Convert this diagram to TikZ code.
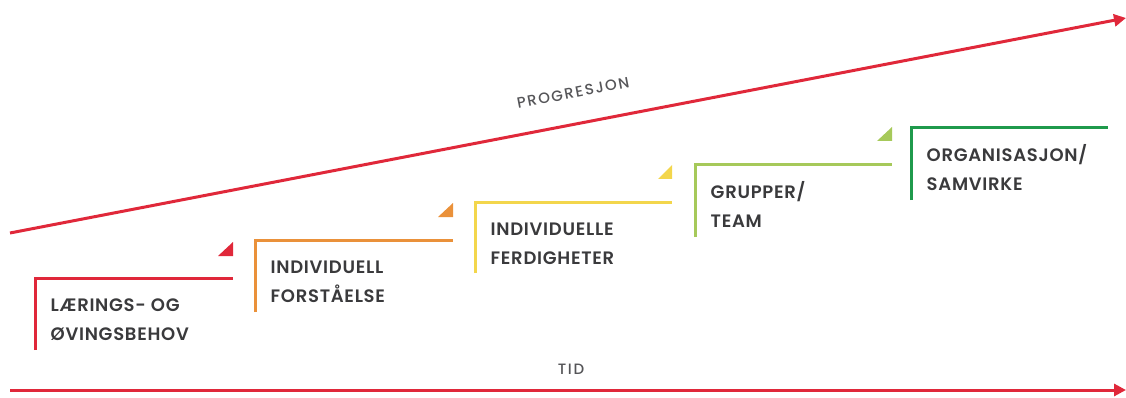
\documentclass[tikz,border=0pt]{standalone}
\usepackage{fontspec}
\setmainfont{Poppins}
\newfontfamily\labfont{Poppins}[LetterSpace=4,BoldFont={Poppins SemiBold}]
\newfontfamily\axfont{Poppins Medium}[LetterSpace=11]
\usetikzlibrary{arrows.meta}
\definecolor{cred}{HTML}{E0283A}
\definecolor{corange}{HTML}{EA913A}
\definecolor{cyellow}{HTML}{F3D64C}
\definecolor{clgreen}{HTML}{A6C95A}
\definecolor{cdgreen}{HTML}{1F9A4C}
\definecolor{ctext}{HTML}{3A3A3C}
\definecolor{caxtext}{HTML}{555558}
\tikzset{
  stepline/.style={line width=3pt},
  axis/.style={cred,line width=3pt,-{Triangle[length=12pt,width=12pt]}},
  lab/.style={anchor=base west,align=left,text=ctext,inner sep=0pt,font=\labfont\fontsize{18}{28.5}\selectfont\bfseries},
  axlab/.style={text=caxtext,inner sep=0pt,font=\axfont\fontsize{15}{17}\selectfont}
}
\begin{document}
\begin{tikzpicture}[x=1pt,y=-1pt]
\useasboundingbox (0,0) rectangle (1126,398);
% axes
\coordinate (t0) at (10,390);
\coordinate (t1) at (1126,390);
\draw[axis] (t0) -- (t1);
\node[axlab] (tid) at (571,369) {TID};
\coordinate (p0) at (10,233);
\coordinate (p1) at (1126,18);
\draw[axis] (p0) -- (p1);
\node[axlab,rotate=10.9] (prog) at (573,93) {PROGRESJON};
% step 1
\coordinate (a1) at (35,350);
\coordinate (b1) at (233,278);
\draw[stepline,cred] (a1) |- (b1);
\fill[cred] (218,256) -- (233,256) -- (233,242) -- cycle;
\node[lab] (l1) at (50.5,340.2) {LÆRINGS- OG\\ØVINGSBEHOV};
% step 2
\coordinate (a2) at (255,312);
\coordinate (b2) at (453,240);
\draw[stepline,corange] (a2) |- (b2);
\fill[corange] (438,217) -- (453,217) -- (453,203) -- cycle;
\node[lab] (l2) at (270.5,302.2) {INDIVIDUELL\\FORSTÅELSE};
% step 3
\coordinate (a3) at (475,273);
\coordinate (b3) at (672,202);
\draw[stepline,cyellow] (a3) |- (b3);
\fill[cyellow] (658,179) -- (672,179) -- (672,165) -- cycle;
\node[lab] (l3) at (490.5,264.2) {INDIVIDUELLE\\FERDIGHETER};
% step 4
\coordinate (a4) at (695,237);
\coordinate (b4) at (892,165);
\draw[stepline,clgreen] (a4) |- (b4);
\fill[clgreen] (877,141) -- (892,141) -- (892,127) -- cycle;
\node[lab] (l4) at (710.5,227.2) {GRUPPER/\\TEAM};
% step 5
\coordinate (a5) at (911,200);
\coordinate (b5) at (1108,128);
\draw[stepline,cdgreen] (a5) |- (b5);
\node[lab] (l5) at (926.5,190.2) {ORGANISASJON/\\SAMVIRKE};
\end{tikzpicture}
\end{document}
